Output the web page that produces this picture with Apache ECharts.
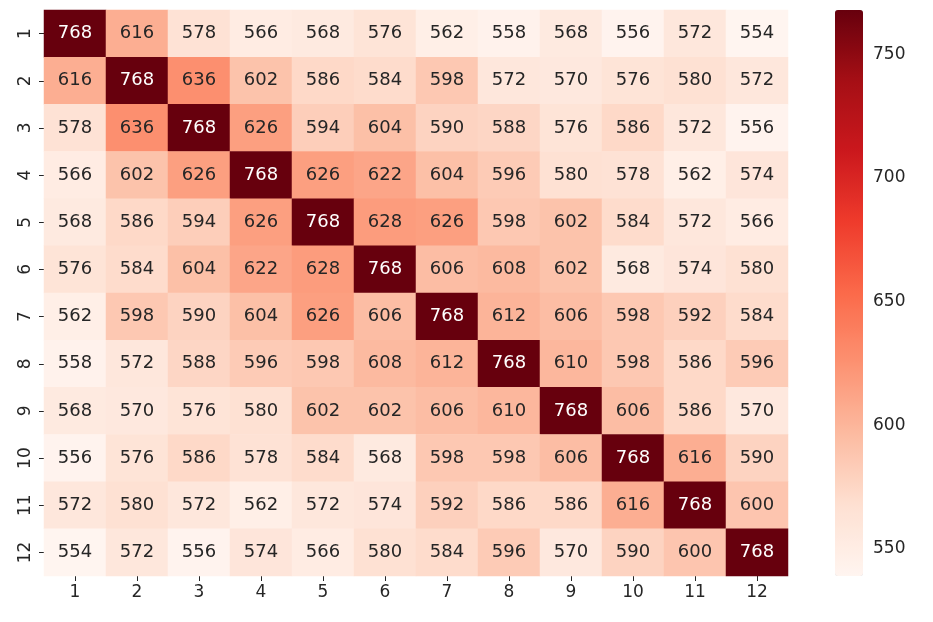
<!DOCTYPE html>
<html>
<head>
<meta charset="utf-8">
<script src="https://cdn.jsdelivr.net/npm/echarts@6/dist/echarts.min.js"></script>
<style>
  html, body { margin: 0; padding: 0; background: #fff; }
  #main { width: 933px; height: 622px; }
</style>
</head>
<body>
<div id="main"></div>
<script>
'use strict';

// category labels (rows top->bottom, columns left->right)
const xLabels = ['1', '2', '3', '4', '5', '6', '7', '8', '9', '10', '11', '12'];
const yLabels = ['1', '2', '3', '4', '5', '6', '7', '8', '9', '10', '11', '12'];

// matrix values, one array per row
const row1 = [768, 616, 578, 566, 568, 576, 562, 558, 568, 556, 572, 554];
const row2 = [616, 768, 636, 602, 586, 584, 598, 572, 570, 576, 580, 572];
const row3 = [578, 636, 768, 626, 594, 604, 590, 588, 576, 586, 572, 556];
const row4 = [566, 602, 626, 768, 626, 622, 604, 596, 580, 578, 562, 574];
const row5 = [568, 586, 594, 626, 768, 628, 626, 598, 602, 584, 572, 566];
const row6 = [576, 584, 604, 622, 628, 768, 606, 608, 602, 568, 574, 580];
const row7 = [562, 598, 590, 604, 626, 606, 768, 612, 606, 598, 592, 584];
const row8 = [558, 572, 588, 596, 598, 608, 612, 768, 610, 598, 586, 596];
const row9 = [568, 570, 576, 580, 602, 602, 606, 610, 768, 606, 586, 570];
const row10 = [556, 576, 586, 578, 584, 568, 598, 598, 606, 768, 616, 590];
const row11 = [572, 580, 572, 562, 572, 574, 592, 586, 586, 616, 768, 600];
const row12 = [554, 572, 556, 574, 566, 580, 584, 596, 570, 590, 600, 768];
const rows = [row1, row2, row3, row4, row5, row6, row7, row8, row9, row10, row11, row12];

// colour mapping range (data min/max) and colour bar scale
const colorMin = 554;
const colorMax = 768;
const cbMin = 539;
const cbMax = 768;
const cbTicks = [550, 600, 650, 700, 750];

const reds = ['#fff5f0', '#fee0d2', '#fcbba1', '#fc9272', '#fb6a4a',
              '#ef3b2c', '#cb181d', '#a50f15', '#67000d'];

const font = 'DejaVu Sans';
const ink = '#262626';

let data = [];
rows.forEach(function (row, r) {
    row.forEach(function (v, c) {
        data.push({
            value: [c, r, v],
            label: { color: v > 700 ? '#ffffff' : ink }
        });
    });
});

window.onload = function () {
    let chart = echarts.init(document.getElementById('main'), null, { renderer: 'canvas' });

    let option = {
        animation: false,
        backgroundColor: '#ffffff',
        grid: [
            { left: 44, top: 10, width: 744, height: 566 },
            { left: 835, top: 10, width: 28, height: 566 }
        ],
        xAxis: [{
            type: 'category',
            data: xLabels,
            gridIndex: 0,
            position: 'bottom',
            axisLine: { show: false },
            axisTick: { show: true, alignWithLabel: true, length: 5, lineStyle: { color: ink } },
            axisLabel: { color: ink, fontFamily: font, fontSize: 17, margin: 8 },
            splitLine: { show: false }
        }, {
            type: 'value',
            gridIndex: 1,
            show: false,
            min: 0,
            max: 1
        }],
        yAxis: [{
            type: 'category',
            data: yLabels,
            gridIndex: 0,
            inverse: true,
            axisLine: { show: false },
            axisTick: { show: true, alignWithLabel: true, length: 5, lineStyle: { color: ink } },
            axisLabel: { color: ink, fontFamily: font, fontSize: 17, rotate: 90, margin: 10 },
            splitLine: { show: false }
        }, {
            type: 'value',
            gridIndex: 1,
            position: 'right',
            min: cbMin,
            max: cbMax,
            axisLine: { show: false },
            axisTick: { show: true, length: 5, customValues: cbTicks, lineStyle: { color: ink } },
            axisLabel: { color: ink, fontFamily: font, fontSize: 17, margin: 10, customValues: cbTicks },
            splitLine: { show: false }
        }],
        visualMap: {
            type: 'continuous',
            min: colorMin,
            max: colorMax,
            calculable: false,
            realtime: false,
            orient: 'vertical',
            left: 835,
            top: 10,
            padding: 0,
            itemWidth: 28,
            itemHeight: 566,
            seriesIndex: 0,
            inRange: { color: reds }
        },
        series: [{
            type: 'heatmap',
            xAxisIndex: 0,
            yAxisIndex: 0,
            data: data,
            label: {
                show: true,
                fontFamily: font,
                fontSize: 18,
                formatter: function (p) { return p.value[2]; }
            },
            itemStyle: { borderWidth: 0 },
            emphasis: { disabled: true }
        }]
    };

    chart.setOption(option);
};
</script>
</body>
</html>
